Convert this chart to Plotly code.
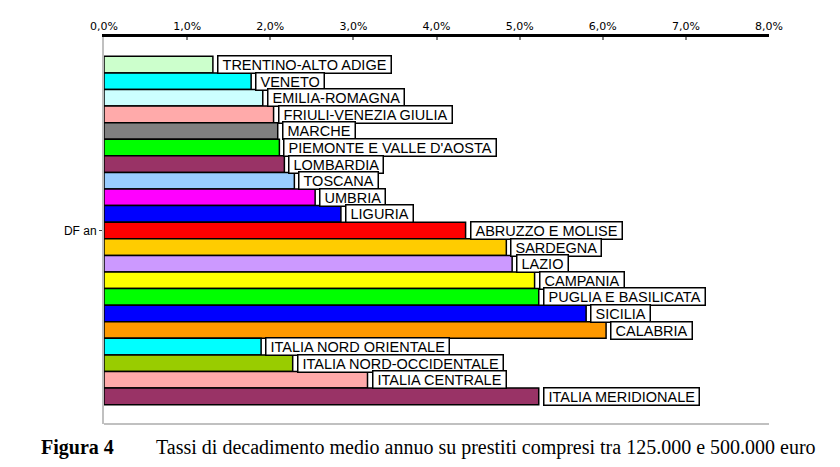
import plotly.graph_objects as go

# Tassi di decadimento medio annuo (%), prestiti tra 125.000 e 500.000 euro
category = "DF an"
regions = [
    "TRENTINO-ALTO ADIGE", "VENETO", "EMILIA-ROMAGNA", "FRIULI-VENEZIA GIULIA",
    "MARCHE", "PIEMONTE E VALLE D'AOSTA", "LOMBARDIA", "TOSCANA", "UMBRIA",
    "LIGURIA", "ABRUZZO E MOLISE", "SARDEGNA", "LAZIO", "CAMPANIA",
    "PUGLIA E BASILICATA", "SICILIA", "CALABRIA", "ITALIA NORD ORIENTALE",
    "ITALIA NORD-OCCIDENTALE", "ITALIA CENTRALE", "ITALIA MERIDIONALE",
]
values = [
    1.31, 1.77, 1.91, 2.04, 2.09, 2.11, 2.17, 2.29, 2.54, 2.85,
    4.35, 4.84, 4.91, 5.18, 5.23, 5.80, 6.04, 1.89, 2.27, 3.17, 5.23,
]
colors = [
    "#CCFFCC", "#00FFFF", "#CCFFFF", "#FFAAAA", "#808080", "#00FF00",
    "#993366", "#99CCFF", "#FF00FF", "#0000FF", "#FF0000", "#FFCC00",
    "#CC99FF", "#FFFF00", "#00FF00", "#0000FF", "#FF9900", "#00FFFF",
    "#99CC00", "#FFAAAA", "#993366",
]
x_ticks = [0, 1, 2, 3, 4, 5, 6, 7, 8]
x_tick_labels = ["0,0%", "1,0%", "2,0%", "3,0%", "4,0%", "5,0%", "6,0%", "7,0%", "8,0%"]

BARGAP = 0.1
n = len(regions)
slot = (1 - BARGAP) / n

fig = go.Figure()
annotations = []
for i, (name, v, c) in enumerate(zip(regions, values, colors)):
    fig.add_trace(go.Bar(
        x=[v], y=[category], orientation="h", name=name,
        marker=dict(color=c, line=dict(color="black", width=1.5)),
        hoverinfo="x+name",
    ))
    yc = -(1 - BARGAP) / 2 + (i + 0.5) * slot
    annotations.append(dict(
        x=v, y=yc, xref="x", yref="y", text="\u00a0" + name + "\u00a0",
        showarrow=False, xanchor="left", yanchor="middle", xshift=4,
        font=dict(family="Liberation Sans, Arial", size=14.5, color="black"),
        bgcolor="white", bordercolor="black", borderwidth=1.5, borderpad=0,
    ))

# page has an 8px body margin, so the figure is laid out 8px smaller
OFF = 8
W, H = 840 - OFF, 467 - OFF
L, R, T, B = 103.5 - OFF, 71, 29 - OFF, 42.5
pw, ph = W - L - R, H - T - B


def px_to_paper(x, y):
    return (x - OFF - L) / pw, (H - B - (y - OFF)) / ph


cap_font = dict(family="Liberation Serif, Times New Roman", size=20, color="black")
fx, fy = px_to_paper(38, 449)
annotations.append(dict(
    x=fx, y=fy, xref="paper", yref="paper", text="<b>Figura 4</b>",
    showarrow=False, xanchor="left", yanchor="middle", font=cap_font,
))
tx, ty = px_to_paper(154, 449)
annotations.append(dict(
    x=tx, y=ty, xref="paper", yref="paper",
    text="Tassi di decadimento medio annuo su prestiti compresi tra 125.000 e 500.000 euro",
    showarrow=False, xanchor="left", yanchor="middle", font=cap_font,
))

fig.update_layout(
    width=W, height=H,
    margin=dict(l=L, r=R, t=T, b=B, pad=0),
    paper_bgcolor="white", plot_bgcolor="white",
    barmode="group", bargap=BARGAP, bargroupgap=0,
    showlegend=False,
    annotations=annotations,
    shapes=[dict(type="line", xref="paper", yref="paper", x0=0, x1=1, y0=0, y1=0,
                 line=dict(color="#C0C0C0", width=2))],
    xaxis=dict(
        side="top", range=[0, 8], tickvals=x_ticks, ticktext=x_tick_labels,
        showline=True, linecolor="black", linewidth=2.5,
        ticks="inside", ticklen=3, tickcolor="#808080", tickwidth=1.5,
        showgrid=False, zeroline=False,
        tickfont=dict(family="DejaVu Sans, Verdana", size=11, color="black"),
    ),
    yaxis=dict(
        autorange="reversed", showline=True, linecolor="#C0C0C0", linewidth=2,
        ticks="outside", ticklen=3, tickcolor="#404040",
        showgrid=False, zeroline=False,
        tickfont=dict(family="Liberation Sans, Arial", size=12, color="black"),
    ),
)

fig.write_html("out.html")
